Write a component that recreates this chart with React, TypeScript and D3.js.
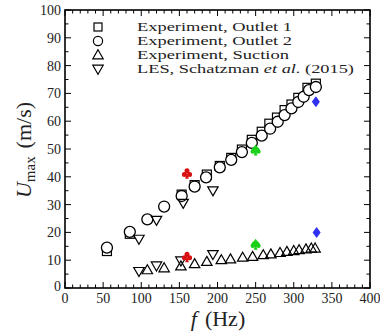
import React from "react";
import * as d3 from "d3";

// ---- data ----
const outlet1F = [55, 85, 153, 170, 186, 203, 218, 232, 245, 258, 268, 278, 288, 297, 306, 318, 329];
const outlet1U = [13.3, 19.5, 33.6, 37.0, 40.8, 43.9, 46.8, 49.8, 53.3, 56.2, 59.1, 61.3, 64.0, 66.0, 68.4, 72.0, 73.5];

const outlet2F = [55, 85, 108, 130, 153, 170, 185, 203, 218, 232, 245, 258, 269, 279, 288, 297, 306, 313, 320, 329];
const outlet2U = [14.5, 20.2, 24.7, 29.3, 33.1, 36.5, 39.8, 43.4, 46.1, 48.9, 52.2, 54.8, 57.3, 59.8, 62.2, 64.6, 66.9, 68.8, 71.2, 72.3];

const suctionF = [108, 130, 152, 170, 186, 205, 217, 233, 246, 260, 270, 282, 291, 300, 307, 316, 323, 328];
const suctionU = [6.5, 7.2, 7.9, 8.7, 9.5, 10.1, 10.4, 11.0, 11.3, 11.9, 12.2, 12.7, 13.1, 13.4, 13.7, 14.0, 14.3, 14.3];

const lesF = [97, 97, 120, 120, 152, 155, 194, 194];
const lesU = [6.0, 17.6, 8.0, 24.4, 9.8, 30.5, 12.1, 35.0];

const clubF = [160, 160];
const clubU = [41.2, 11.2];
const spadeF = [250, 250];
const spadeU = [49.6, 15.7];
const diamondF = [329, 330];
const diamondU = [67.0, 20.0];

const xTicks = [0, 50, 100, 150, 200, 250, 300, 350, 400];
const yTicks = [0, 10, 20, 30, 40, 50, 60, 70, 80, 90, 100];
const legendLabels = ["Experiment, Outlet 1", "Experiment, Outlet 2", "Experiment, Suction"];

// ---- layout ----
const W = 380, H = 332;
const L = 65, R = 370, T = 10, B = 288;
const x = d3.scaleLinear().domain([0, 400]).range([L, R]);
const y = d3.scaleLinear().domain([0, 100]).range([B, T]);

const FONT = "'Liberation Serif', 'Times New Roman', serif";

const sq = (cx: number, cy: number, s = 9) => (
  <rect x={cx - s / 2} y={cy - s / 2} width={s} height={s} fill="white" stroke="#000" strokeWidth={1.2} />
);
const triUp = (cx: number, cy: number) =>
  `M${cx},${cy - 5.2}L${cx + 5.2},${cy + 3.8}L${cx - 5.2},${cy + 3.8}Z`;
const triDown = (cx: number, cy: number) =>
  `M${cx},${cy + 5.2}L${cx + 5.2},${cy - 3.8}L${cx - 5.2},${cy - 3.8}Z`;

const spadePath = (cx: number, cy: number) => {
  const p = d3.path();
  p.moveTo(cx, cy - 5.5);
  p.bezierCurveTo(cx + 1, cy - 3.2, cx + 5, cy - 1.2, cx + 5, cy + 1.6);
  p.bezierCurveTo(cx + 5, cy + 3.8, cx + 2.4, cy + 4.2, cx + 0.8, cy + 2.6);
  p.lineTo(cx + 2, cy + 5.5);
  p.lineTo(cx - 2, cy + 5.5);
  p.lineTo(cx - 0.8, cy + 2.6);
  p.bezierCurveTo(cx - 2.4, cy + 4.2, cx - 5, cy + 3.8, cx - 5, cy + 1.6);
  p.bezierCurveTo(cx - 5, cy - 1.2, cx - 1, cy - 3.2, cx, cy - 5.5);
  p.closePath();
  return p.toString();
};

const Club = ({ cx, cy }: { cx: number; cy: number }) => (
  <g fill="#d81010">
    <circle cx={cx} cy={cy - 2.6} r={2.5} />
    <circle cx={cx - 2.6} cy={cy + 1} r={2.5} />
    <circle cx={cx + 2.6} cy={cy + 1} r={2.5} />
    <path d={`M${cx},${cy - 1}L${cx + 1.8},${cy + 5.3}L${cx - 1.8},${cy + 5.3}Z`} />
  </g>
);

export default function App() {
  const minorX = d3.range(0, 401, 10).filter((v) => v % 50 !== 0);
  const minorY = d3.range(0, 101, 5).filter((v) => v % 10 !== 0);
  const legY = [27, 41, 55, 69];
  const legX = 98;
  return (
    <svg width={W} height={H} style={{ position: "absolute", left: 0, top: 0, background: "white" }} fontFamily={FONT}>
      {/* ticks */}
      <g stroke="#000" strokeWidth={1}>
        {xTicks.map((v) => (
          <g key={"xt" + v}>
            <line x1={x(v)} x2={x(v)} y1={B} y2={B - 6} />
            <line x1={x(v)} x2={x(v)} y1={T} y2={T + 6} />
          </g>
        ))}
        {minorX.map((v) => (
          <g key={"xm" + v}>
            <line x1={x(v)} x2={x(v)} y1={B} y2={B - 3.5} />
            <line x1={x(v)} x2={x(v)} y1={T} y2={T + 3.5} />
          </g>
        ))}
        {yTicks.map((v) => (
          <g key={"yt" + v}>
            <line x1={L} x2={L + 6} y1={y(v)} y2={y(v)} />
            <line x1={R} x2={R - 6} y1={y(v)} y2={y(v)} />
          </g>
        ))}
        {minorY.map((v) => (
          <g key={"ym" + v}>
            <line x1={L} x2={L + 3.5} y1={y(v)} y2={y(v)} />
            <line x1={R} x2={R - 3.5} y1={y(v)} y2={y(v)} />
          </g>
        ))}
      </g>
      <rect x={L} y={T} width={R - L} height={B - T} fill="none" stroke="#000" strokeWidth={1.6} />

      {/* tick labels */}
      <g fontSize={14} fill="#222">
        {xTicks.map((v) => (
          <text key={"xl" + v} x={x(v)} y={B + 15} textAnchor="middle">{v}</text>
        ))}
        {yTicks.map((v) => (
          <text key={"yl" + v} x={L - 4} y={y(v) + (v === 0 ? 3 : 5)} textAnchor="end">{v}</text>
        ))}
      </g>

      {/* axis titles */}
      <text x={218} y={326} textAnchor="middle" fontSize={22} fill="#222">
        <tspan fontStyle="italic">f</tspan>
        <tspan dx={8}>(Hz)</tspan>
      </text>
      <text transform={`translate(31,150) rotate(-90)`} textAnchor="middle" fontSize={22} fill="#222">
        <tspan fontStyle="italic">U</tspan>
        <tspan fontSize={15} dy={4}>max</tspan>
        <tspan dy={-4} dx={8}>(m/s)</tspan>
      </text>

      {/* data: Outlet 1 squares */}
      <g>
        {outlet1F.map((f, i) => (
          <g key={"s" + i}>{sq(x(f), y(outlet1U[i]))}</g>
        ))}
      </g>
      {/* Outlet 2 circles */}
      <g fill="white" stroke="#000" strokeWidth={1.3}>
        {outlet2F.map((f, i) => (
          <circle key={"c" + i} cx={x(f)} cy={y(outlet2U[i])} r={5.5} />
        ))}
      </g>
      {/* Suction triangles and LES inverted triangles */}
      <g fill="none" stroke="#000" strokeWidth={1.2}>
        {suctionF.map((f, i) => (
          <path key={"t" + i} d={triUp(x(f), y(suctionU[i]))} />
        ))}
        {lesF.map((f, i) => (
          <path key={"d" + i} d={triDown(x(f), y(lesU[i]))} />
        ))}
      </g>
      {/* colored symbols */}
      {clubF.map((f, i) => (
        <Club key={"cl" + i} cx={x(f)} cy={y(clubU[i])} />
      ))}
      {spadeF.map((f, i) => (
        <path key={"sp" + i} d={spadePath(x(f), y(spadeU[i]))} fill="#19d119" />
      ))}
      {diamondF.map((f, i) => {
        const cx = x(f), cy = y(diamondU[i]);
        return <path key={"di" + i} d={`M${cx},${cy - 5.5}L${cx + 4},${cy}L${cx},${cy + 5.5}L${cx - 4},${cy}Z`} fill="#3030f0" />;
      })}

      {/* legend */}
      <g>
        {sq(legX, legY[0], 8)}
        <circle cx={legX} cy={legY[1]} r={4.6} fill="white" stroke="#000" strokeWidth={1.2} />
        <path d={triUp(legX, legY[2])} fill="none" stroke="#000" strokeWidth={1.2} />
        <path d={triDown(legX, legY[3])} fill="none" stroke="#000" strokeWidth={1.2} />
      </g>
      <g fontSize={12} fill="#222">
        {legendLabels.map((t, i) => (
          <text key={"lg" + i} x={137} y={legY[i] + 4} textLength={t === "Experiment, Suction" ? 152 : 155} lengthAdjust="spacingAndGlyphs">{t}</text>
        ))}
        <text x={137} y={legY[3] + 4} textLength={217} lengthAdjust="spacingAndGlyphs">
          LES, Schatzman <tspan fontStyle="italic">et al.</tspan> (2015)
        </text>
      </g>
    </svg>
  );
}
